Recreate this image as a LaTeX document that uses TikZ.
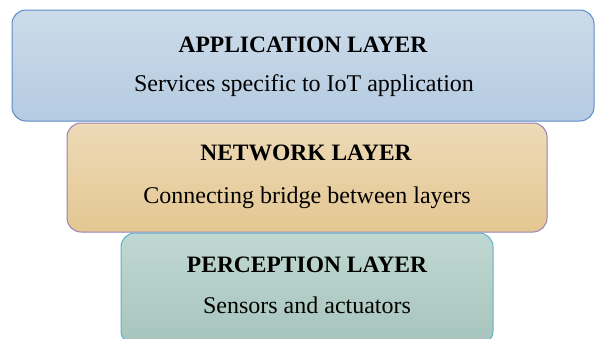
\documentclass[tikz,border=0pt]{standalone}
\usepackage{fontspec}
\setmainfont{Liberation Serif}
\definecolor{appTop}{HTML}{CCDBE9}
\definecolor{appBot}{HTML}{B5CBE1}
\definecolor{appLine}{HTML}{5B8BC9}
\definecolor{netTop}{HTML}{EDDAB7}
\definecolor{netBot}{HTML}{E4C792}
\definecolor{netLine}{HTML}{9B80B6}
\definecolor{perTop}{HTML}{C0D8D2}
\definecolor{perBot}{HTML}{A6C4BC}
\definecolor{perLine}{HTML}{5BB2CF}
\tikzset{
  layerbox/.style={rectangle, rounded corners=14pt, line width=1pt, inner sep=0pt},
  titletext/.style={font=\fontsize{23.5}{28}\selectfont\bfseries, inner sep=0pt, anchor=base},
  desctext/.style={font=\fontsize{24}{28}\selectfont, inner sep=0pt, anchor=base}
}
\begin{document}
\begin{tikzpicture}[x=1pt,y=-1pt]
\useasboundingbox (0,0) rectangle (596,338);
\node[layerbox, draw=appLine, top color=appTop, bottom color=appBot,
  minimum width=582pt, minimum height=111pt] (app) at (303,65.5) {};
\node[layerbox, draw=netLine, top color=netTop, bottom color=netBot,
  minimum width=480pt, minimum height=109pt] (net) at (307,177.5) {};
\node[layerbox, draw=perLine, top color=perTop, bottom color=perBot,
  minimum width=372pt, minimum height=112pt] (per) at (307,289) {};
\node[titletext] (appt) at (303,52) {APPLICATION LAYER};
\node[desctext] (appd) at (304,91) {Services specific to IoT application};
\node[titletext] (nett) at (306,160) {NETWORK LAYER};
\node[desctext] (netd) at (307,203) {Connecting bridge between layers};
\node[titletext] (pert) at (307,272) {PERCEPTION LAYER};
\node[desctext] (perd) at (307,313) {Sensors and actuators};
\end{tikzpicture}
\end{document}
